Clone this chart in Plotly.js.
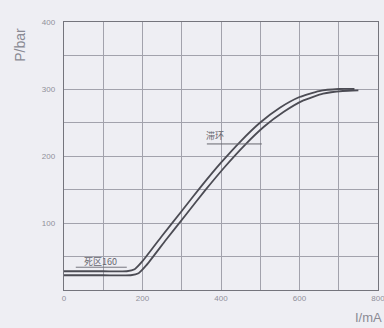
<!DOCTYPE html>
<html><head><meta charset="utf-8">
<script src="https://cdn.plot.ly/plotly-3.0.1.min.js"></script>
<style>html,body{margin:0;padding:0;background:#eeeef3;}</style>
</head><body>
<div id="chart" style="width:384px;height:328px;"></div>
<script>
// Upper (rising) branch
const currentUp = [0, 100, 160, 180, 200, 250, 300, 350, 400, 450, 500, 550, 600, 650, 700, 740];
const pressureUp = [28, 28, 28, 31, 43, 81, 118, 155, 190, 222, 250, 272, 288, 297, 300, 300];
// Lower (falling) branch
const currentDown = [0, 100, 170, 190, 210, 260, 310, 360, 410, 460, 510, 560, 610, 660, 710, 750];
const pressureDown = [22, 22, 22, 25, 37, 75, 112, 149, 184, 216, 244, 266, 283, 293, 297, 298];
const xTicks = [0, 200, 400, 600, 800];
const yTicks = [100, 200, 300, 400];

const lineStyle = {color: '#4c4c54', width: 1.8, shape: 'spline', smoothing: 0.5};
const traces = [
  {x: currentUp, y: pressureUp, mode: 'lines', line: lineStyle, hoverinfo: 'skip'},
  {x: currentDown, y: pressureDown, mode: 'lines', line: lineStyle, hoverinfo: 'skip'}
];
const gridCol = '#a2a2ac';
const layout = {
  width: 384, height: 328,
  margin: {l: 64, r: 6, t: 22, b: 38},
  paper_bgcolor: '#eeeef3', plot_bgcolor: '#eeeef3',
  showlegend: false,
  font: {family: 'Liberation Sans Narrow, Liberation Sans, sans-serif', color: '#90909a', size: 8},
  xaxis: {
    range: [0, 800], tickvals: xTicks, ticktext: xTicks.map(String),
    showgrid: true, gridcolor: gridCol, gridwidth: 1,
    minor: {dtick: 100, tick0: 0, showgrid: true, gridcolor: gridCol, gridwidth: 1},
    showline: true, linecolor: '#74747c', linewidth: 1.2, mirror: true,
    zeroline: false, ticks: '', ticklen: 0, ticklabeloverflow: 'allow', fixedrange: true
  },
  yaxis: {
    range: [0, 400], tickvals: yTicks, ticktext: yTicks.map(String),
    showgrid: true, gridcolor: gridCol, gridwidth: 1,
    minor: {dtick: 50, tick0: 0, showgrid: true, gridcolor: gridCol, gridwidth: 1},
    showline: true, linecolor: '#74747c', linewidth: 1.2, mirror: true,
    zeroline: false, ticks: '', ticklen: 0, ticklabelstandoff: 6, fixedrange: true
  },
  annotations: [
    {xref: 'paper', yref: 'paper', x: -0.14, y: 0.915, xanchor: 'center', yanchor: 'middle',
     text: 'P/bar', textangle: -90, showarrow: false,
     font: {family: 'Liberation Sans, sans-serif', size: 14, color: '#8a8a94'}},
    {xref: 'paper', yref: 'paper', x: 1.019, y: -0.138, xanchor: 'right', yanchor: 'bottom',
     text: 'I/mA', showarrow: false,
     font: {family: 'Liberation Sans, sans-serif', size: 13, color: '#8a8a94'}},
    {x: 92, y: 42, text: '死区160', showarrow: false,
     font: {family: 'Noto Sans CJK SC', size: 9, color: '#66666e'}},
    {x: 385, y: 230, text: '滞环', showarrow: false,
     font: {family: 'Noto Sans CJK SC', size: 9, color: '#66666e'}}
  ],
  shapes: [
    {type: 'line', x0: 364, x1: 504, y0: 218, y1: 218, line: {color: '#66666e', width: 1}},
    {type: 'line', x0: 30, x1: 160, y0: 34, y1: 34, line: {color: '#77777f', width: 1}}
  ]
};
Plotly.newPlot('chart', traces, layout, {displayModeBar: false, staticPlot: true});
</script>
</body></html>
